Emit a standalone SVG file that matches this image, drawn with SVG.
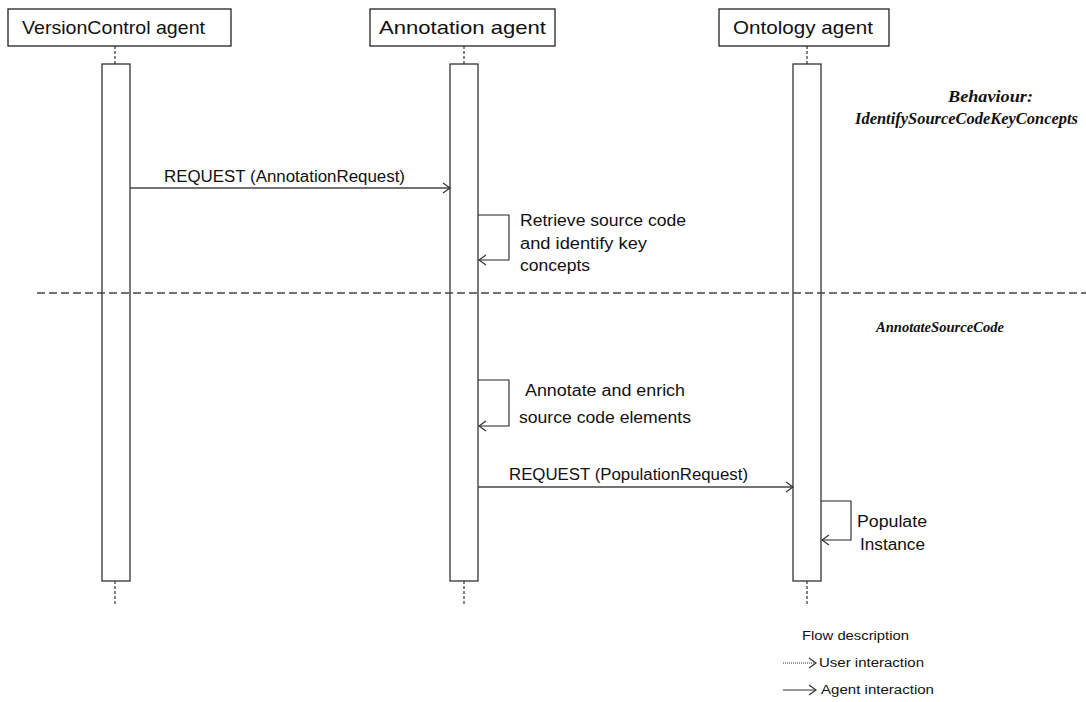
<svg xmlns="http://www.w3.org/2000/svg" width="1086" height="702" viewBox="0 0 1086 702">
  <style>
    .box { fill: #fff; stroke: #222; stroke-width: 1.3; }
    .bar { fill: #fff; stroke: #333; stroke-width: 1.3; }
    .life { stroke: #333; stroke-width: 1.2; stroke-dasharray: 3 2; fill: none; }
    .msg { stroke: #444; stroke-width: 1.3; fill: none; }
    .loop { stroke: #222; stroke-width: 1.1; fill: none; }
    .sep { stroke: #444; stroke-width: 1.3; stroke-dasharray: 8 4; fill: none; }
    .head { font-family: "Liberation Sans", Arial, sans-serif; font-size: 19px; fill: #111; }
    .lbl { font-family: "Liberation Sans", Arial, sans-serif; font-size: 16px; fill: #111; }
    .beh { font-family: "Liberation Serif", "Times New Roman", serif; font-weight: bold; font-style: italic; fill: #111; }
    .leg { font-family: "Liberation Sans", Arial, sans-serif; font-size: 12.5px; fill: #111; }
  </style>
  <defs>
    <marker id="open" markerWidth="10" markerHeight="12" refX="8" refY="6" orient="auto" markerUnits="userSpaceOnUse">
      <path d="M1,1 L8,6 L1,11" fill="none" stroke="#333" stroke-width="1.2"/>
    </marker>
  </defs>
  <rect width="1086" height="702" fill="#fff"/>

  <!-- lifelines -->
  <g id="versioncontrol-agent">
    <line class="life" x1="115" y1="46" x2="115" y2="64"/>
    <line class="life" x1="115" y1="581" x2="115" y2="605"/>
    <rect class="box" x="8" y="9" width="223" height="37"/>
    <text class="head" x="22" y="34" textLength="183" lengthAdjust="spacingAndGlyphs">VersionControl agent</text>
    <rect class="bar" x="102" y="64" width="28" height="517"/>
  </g>

  <g id="annotation-agent">
    <line class="life" x1="464" y1="46" x2="464" y2="64"/>
    <line class="life" x1="464" y1="581" x2="464" y2="605"/>
    <rect class="box" x="370" y="9" width="185" height="37"/>
    <text class="head" x="379" y="34" textLength="167" lengthAdjust="spacingAndGlyphs">Annotation agent</text>
    <rect class="bar" x="450" y="64" width="28" height="517"/>
  </g>

  <g id="ontology-agent">
    <line class="life" x1="807" y1="46" x2="807" y2="64"/>
    <line class="life" x1="807" y1="581" x2="807" y2="605"/>
    <rect class="box" x="719" y="9" width="170" height="37"/>
    <text class="head" x="733" y="34" textLength="140" lengthAdjust="spacingAndGlyphs">Ontology agent</text>
    <rect class="bar" x="793" y="64" width="28" height="517"/>
  </g>

  <!-- behaviour labels -->
  <g id="behaviours">
    <text class="beh" x="948" y="102" font-size="17" textLength="85" lengthAdjust="spacingAndGlyphs">Behaviour:</text>
    <text class="beh" x="855" y="124" font-size="17" textLength="223" lengthAdjust="spacingAndGlyphs">IdentifySourceCodeKeyConcepts</text>
    <text class="beh" x="876" y="332" font-size="15" textLength="128" lengthAdjust="spacingAndGlyphs">AnnotateSourceCode</text>
  </g>

  <!-- phase separator -->
  <line class="sep" x1="37" y1="293" x2="1086" y2="293"/>

  <!-- connectors -->
  <g id="connectors">
    <line class="msg" x1="130" y1="188" x2="450" y2="188" marker-end="url(#open)"/>
    <text class="lbl" x="164" y="182" textLength="241" lengthAdjust="spacingAndGlyphs">REQUEST (AnnotationRequest)</text>

    <path class="loop" d="M478,215 H509 V260 H479" marker-end="url(#open)"/>
    <text class="lbl" x="520" y="226" textLength="166" lengthAdjust="spacingAndGlyphs">Retrieve source code</text>
    <text class="lbl" x="520" y="249" textLength="127" lengthAdjust="spacingAndGlyphs">and identify key</text>
    <text class="lbl" x="520" y="271" textLength="70" lengthAdjust="spacingAndGlyphs">concepts</text>

    <path class="loop" d="M478,380 H509 V426 H479" marker-end="url(#open)"/>
    <text class="lbl" x="525" y="396" textLength="160" lengthAdjust="spacingAndGlyphs">Annotate and enrich</text>
    <text class="lbl" x="519" y="423" textLength="172" lengthAdjust="spacingAndGlyphs">source code elements</text>

    <line class="msg" x1="478" y1="487" x2="793" y2="487" marker-end="url(#open)"/>
    <text class="lbl" x="509" y="480" textLength="239" lengthAdjust="spacingAndGlyphs">REQUEST (PopulationRequest)</text>

    <path class="loop" d="M821,501 H851 V540 H822" marker-end="url(#open)"/>
    <text class="lbl" x="857" y="527" textLength="70" lengthAdjust="spacingAndGlyphs">Populate</text>
    <text class="lbl" x="860" y="550" textLength="65" lengthAdjust="spacingAndGlyphs">Instance</text>
  </g>

  <!-- legend -->
  <g id="legend">
    <text class="leg" x="802" y="640" textLength="107" lengthAdjust="spacingAndGlyphs">Flow description</text>
    <line x1="783" y1="663" x2="816" y2="663" stroke="#333" stroke-width="1" stroke-dasharray="1 1" marker-end="url(#open)"/>
    <text class="leg" x="819" y="667" textLength="105" lengthAdjust="spacingAndGlyphs">User interaction</text>
    <line x1="783" y1="690" x2="816" y2="690" stroke="#333" stroke-width="1.2" marker-end="url(#open)"/>
    <text class="leg" x="821" y="694" textLength="113" lengthAdjust="spacingAndGlyphs">Agent interaction</text>
  </g>
</svg>
